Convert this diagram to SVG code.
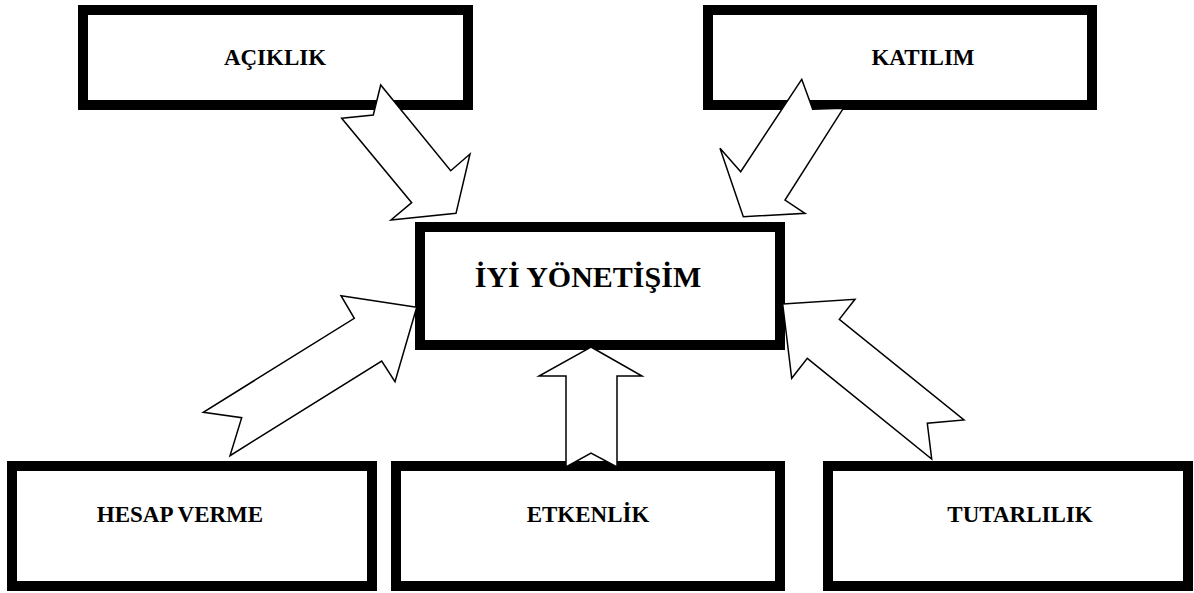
<svg xmlns="http://www.w3.org/2000/svg" width="1194" height="593" viewBox="0 0 1194 593">
  <style>
    .box { fill: #ffffff; stroke: #000000; stroke-width: 10; }
    .label { font-family: "Liberation Serif", "Times New Roman", serif; font-weight: bold; font-size: 23px; fill: #000000; text-anchor: middle; }
    .title { font-size: 30px; }
    .arrow { fill: #ffffff; stroke: #000000; stroke-width: 1.5; stroke-linejoin: miter; }
  </style>
  <rect width="1194" height="593" fill="#ffffff"/>

  <g id="node-aciklik">
    <rect class="box" x="83" y="10" width="385" height="95"/>
    <text class="label" x="275" y="65">AÇIKLIK</text>
  </g>

  <g id="node-katilim">
    <rect class="box" x="708" y="10" width="384" height="95"/>
    <text class="label" x="923" y="65">KATILIM</text>
  </g>

  <g id="node-iyi-yonetisim">
    <rect class="box" x="420" y="227" width="360" height="118"/>
    <text class="label title" x="588" y="287">İYİ YÖNETİŞİM</text>
  </g>

  <g id="node-hesap-verme">
    <rect class="box" x="12" y="466" width="360" height="120"/>
    <text class="label" x="180" y="522">HESAP VERME</text>
  </g>

  <g id="node-etkenlik">
    <rect class="box" x="396" y="466" width="384" height="120"/>
    <text class="label" x="588" y="522">ETKENLİK</text>
  </g>

  <g id="node-tutarlilik">
    <rect class="box" x="828" y="466" width="360" height="120"/>
    <text class="label" x="1020" y="522">TUTARLILIK</text>
  </g>

  <!-- block arrows pointing into the central box -->
  <g id="connectors">
    <polygon class="arrow" points="341.7,118.3 373.3,115 380.7,85 450.7,170.7 470,154 456,213.3 391,220 411.7,202.7"/>
    <polygon class="arrow" points="801.7,79.3 812.7,109.3 843.3,108.3 785,200 805,213.3 743.3,216.7 720,148.3 740.7,171.7"/>
    <polygon class="arrow" points="416.7,307.3 341,295.7 354.3,318.3 203.3,412.3 241.7,417.7 230,455.7 381.7,361 395,381.7"/>
    <polygon class="arrow" points="782.7,304 855,299.3 839.3,319.3 964,420 927.3,423.3 931.7,459 807.3,358.3 791.7,378.3"/>
    <polygon class="arrow" points="591,347 642,376 617,376 617,467 591,453 566,467 566,376 539,376"/>
  </g>
</svg>
